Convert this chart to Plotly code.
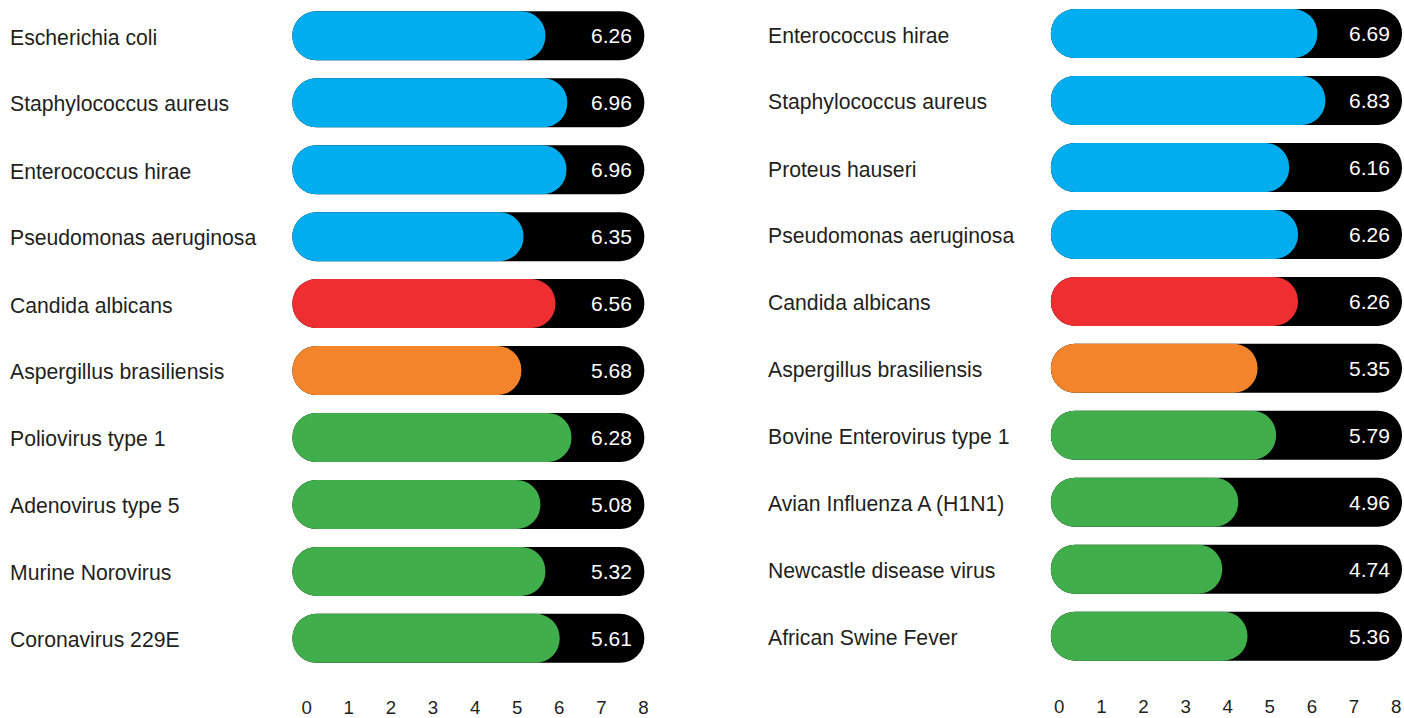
import plotly.graph_objects as go

# ---------------- data ----------------
left_names = ["Escherichia coli", "Staphylococcus aureus", "Enterococcus hirae",
              "Pseudomonas aeruginosa", "Candida albicans", "Aspergillus brasiliensis",
              "Poliovirus type 1", "Adenovirus type 5", "Murine Norovirus", "Coronavirus 229E"]
left_labels = ["6.26", "6.96", "6.96", "6.35", "6.56", "5.68", "6.28", "5.08", "5.32", "5.61"]
left_bars = [5.67, 6.19, 6.17, 5.15, 5.91, 5.10, 6.29, 5.55, 5.67, 6.01]
left_groups = ["bacteria"] * 4 + ["yeast", "mould"] + ["virus"] * 4

right_names = ["Enterococcus hirae", "Staphylococcus aureus", "Proteus hauseri",
               "Pseudomonas aeruginosa", "Candida albicans", "Aspergillus brasiliensis",
               "Bovine Enterovirus type 1", "Avian Influenza A (H1N1)",
               "Newcastle disease virus", "African Swine Fever"]
right_labels = ["6.69", "6.83", "6.16", "6.26", "6.26", "5.35", "5.79", "4.96", "4.74", "5.36"]
right_bars = [6.13, 6.32, 5.46, 5.67, 5.67, 4.71, 5.15, 4.25, 3.87, 4.47]
right_groups = ["bacteria"] * 4 + ["yeast", "mould"] + ["virus"] * 4

tick_vals = [0, 1, 2, 3, 4, 5, 6, 7, 8]
tick_text = ["0", "1", "2", "3", "4", "5", "6", "7", "8"]

# track (black pill) extents on each axis
left_track = (-0.34, 8.02)
right_track = (-0.20, 8.14)

group_colors = {"bacteria": "#00AEEF", "yeast": "#EE2E30", "mould": "#F4842B", "virus": "#40AE4B"}

FONT = "Arial, 'Liberation Sans', Helvetica, sans-serif"
TEXT_COLOR = "#231F20"
W, H = 1404, 718
BAR_W = 0.732

fig = go.Figure()


def add_panel(names, labels, bars, groups, track, xa, ya, label_x_px):
    rows = list(range(len(names)))
    start, end = track
    colors = [group_colors[g] for g in groups]
    common = dict(orientation="h", y=rows, width=BAR_W, xaxis=xa, yaxis=ya,
                  hoverinfo="skip", showlegend=False)
    # black track
    fig.add_trace(go.Bar(x=[end - start] * len(rows), base=[start] * len(rows),
                         marker=dict(color="#000000", cornerradius="50%", line=dict(width=0)),
                         **common))
    # coloured value bar
    fig.add_trace(go.Bar(x=[v - start for v in bars], base=[start] * len(rows),
                         marker=dict(color=colors, cornerradius="50%", line=dict(width=0)),
                         **common))
    for i, (n, lab) in enumerate(zip(names, labels)):
        fig.add_annotation(x=label_x_px / W, xref="paper", y=i, yref=ya, text=n,
                           xanchor="left", yanchor="middle", yshift=-1.5, showarrow=False,
                           font=dict(family=FONT, size=21.2, color=TEXT_COLOR))
        fig.add_annotation(x=end, xref=xa, y=i, yref=ya, text=lab,
                           xanchor="right", yanchor="middle", xshift=-10.2, showarrow=False,
                           font=dict(family=FONT, size=21, color="#FFFFFF"))


add_panel(left_names, left_labels, left_bars, left_groups, left_track, "x", "y", 10.7 - 2.5)
add_panel(right_names, right_labels, right_bars, right_groups, right_track, "x2", "y2", 769 - 2.5)

# axis geometry (pixels)
PXU = 42.1
lx0, rx0 = 306.7, 1059.3
lrange = [-0.4, 8.1]
rrange = [-0.3, 8.18]
ldom = [(lx0 + lrange[0] * PXU) / W, (lx0 + lrange[1] * PXU) / W]
rdom = [(rx0 + rrange[0] * PXU) / W, min(1.0, (rx0 + rrange[1] * PXU) / W)]

pitch = 66.95
l_top, r_top = 35.8, 33.6
ly_dom = [(H - (l_top + 9.5 * pitch)) / H, min(1.0, (H - (l_top - 0.45 * pitch)) / H)]
ry_dom = [(H - (r_top + 9.5 * pitch)) / H, min(1.0, (H - (r_top - 0.45 * pitch)) / H)]

xcommon = dict(tickmode="array", tickvals=tick_vals, ticktext=tick_text, showgrid=False,
               zeroline=False, showline=False, ticks="", automargin=False,
               tickfont=dict(family=FONT, size=18.7, color=TEXT_COLOR))

fig.update_layout(
    width=W, height=H,
    autosize=False,
    margin=dict(l=0, r=0, t=0, b=0, pad=0, autoexpand=False),
    paper_bgcolor="white", plot_bgcolor="white",
    barmode="overlay",
    xaxis=dict(domain=ldom, range=lrange, anchor="y", ticklabelstandoff=22, **xcommon),
    xaxis2=dict(domain=rdom, range=rrange, anchor="y2", ticklabelstandoff=24, **xcommon),
    yaxis=dict(domain=ly_dom, range=[9.5, -0.45], visible=False, anchor="x", automargin=False),
    yaxis2=dict(domain=ry_dom, range=[9.5, -0.45], visible=False, anchor="x2", automargin=False),
)

fig.write_html(
    "out.html",
    config={"displayModeBar": False},
    post_script="document.body.style.margin='0';document.body.style.overflow='hidden';",
)
